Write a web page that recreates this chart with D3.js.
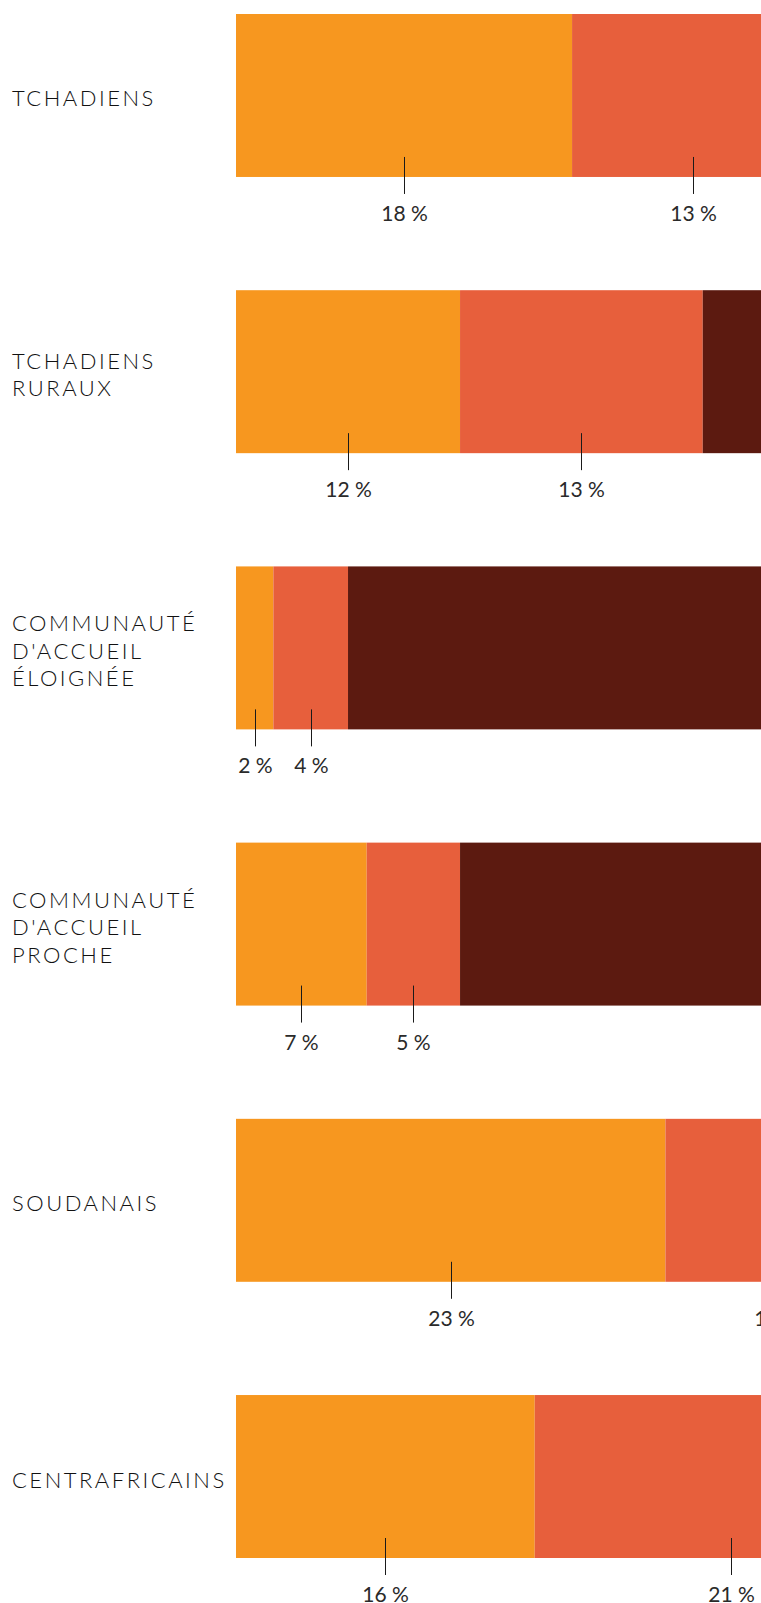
<!DOCTYPE html>
<html>
<head>
<meta charset="utf-8">
<script src="https://cdn.jsdelivr.net/npm/d3@7"></script>
<style>
  html, body { margin: 0; padding: 0; background: #ffffff; overflow: hidden; }
  svg { display: block; }
</style>
</head>
<body>
<svg id="chart" width="761" height="1603"></svg>
<script>
// ---- Data ----
const categories = [
  ["TCHADIENS"],
  ["TCHADIENS", "RURAUX"],
  ["COMMUNAUTÉ", "D'ACCUEIL", "ÉLOIGNÉE"],
  ["COMMUNAUTÉ", "D'ACCUEIL", "PROCHE"],
  ["SOUDANAIS"],
  ["CENTRAFRICAINS"]
];
const seriesNames = ["s1", "s2", "s3"];
const series1 = [18, 12, 2, 7, 23, 16];
const series2 = [13, 13, 4, 5, 12, 21];
const series3 = [20, 30, 55, 40, 15, 20]; // mostly beyond the visible frame
const colors = ["#f7971f", "#e75f3c", "#5c1a10"];

// ---- Layout ----
const svg = d3.select("#chart");
const W = 761;
const x = d3.scaleLinear().domain([0, 100]).range([236, 236 + 1867]);
const y = d3.scaleBand()
  .domain(d3.range(categories.length))
  .range([14, 1558])
  .paddingInner(0.41)
  .paddingOuter(0);

const rows = categories.map((c, i) => ({ i, s1: series1[i], s2: series2[i], s3: series3[i] }));
const stacked = d3.stack().keys(seriesNames)(rows);

svg.append("defs").append("clipPath").attr("id", "clip")
  .append("rect").attr("x", 0).attr("y", 0).attr("width", W).attr("height", 1603);

const g = svg.append("g").attr("clip-path", "url(#clip)");

stacked.forEach((layer, k) => {
  g.append("g").selectAll("rect")
    .data(layer)
    .join("rect")
    .attr("x", d => x(d[0]))
    .attr("y", (d, i) => y(i))
    .attr("width", d => x(d[1]) - x(d[0]))
    .attr("height", y.bandwidth())
    .attr("fill", colors[k]);
});

// value ticks + labels
stacked.forEach((layer, k) => {
  const grp = g.append("g");
  layer.forEach((d, i) => {
    const cx = Math.round(x((d[0] + d[1]) / 2)) + 0.5;
    const yb = y(i) + y.bandwidth();
    grp.append("line")
      .attr("x1", cx).attr("x2", cx)
      .attr("y1", yb - 20).attr("y2", yb + 17)
      .attr("stroke", "#1a1a1a").attr("stroke-width", 1);
    grp.append("text")
      .attr("x", cx)
      .attr("y", yb + 44)
      .attr("text-anchor", "middle")
      .attr("font-family", "Lato, 'Open Sans', sans-serif")
      .attr("font-weight", 400)
      .attr("font-size", 21)
      .attr("fill", "#2a2a2a")
      .text(d.data["s" + (k + 1)] + " %");
  });
});

// category labels
const lineH = 27.6;
categories.forEach((lines, i) => {
  const cy = y(i) + y.bandwidth() / 2 + 3;
  const t = svg.append("text")
    .attr("font-family", "Lato, 'Open Sans', sans-serif")
    .attr("font-weight", 300)
    .attr("font-size", 22)
    .attr("letter-spacing", "2.5px")
    .attr("fill", "#111");
  lines.forEach((ln, j) => {
    t.append("tspan")
      .attr("x", 12)
      .attr("y", cy + (j - (lines.length - 1) / 2) * lineH + 8)
      .text(ln);
  });
});
</script>
</body>
</html>
